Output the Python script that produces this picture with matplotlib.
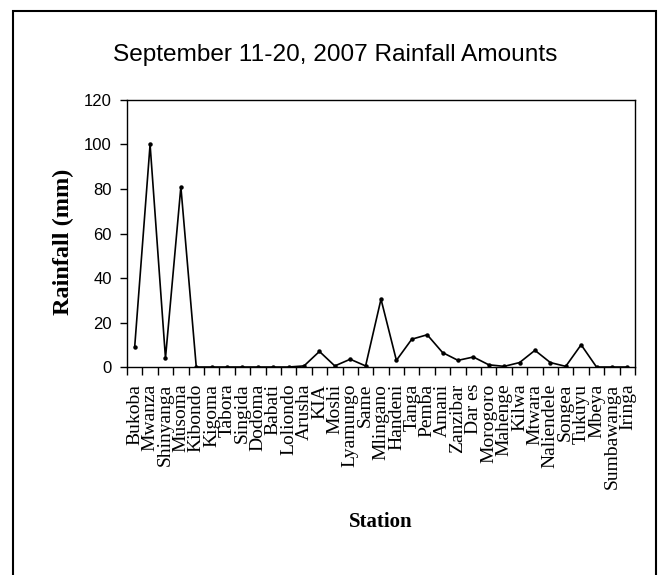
import matplotlib
matplotlib.use("Agg")
import matplotlib.pyplot as plt
from matplotlib.patches import Rectangle
from matplotlib.ticker import FixedLocator, NullFormatter

# Station names and rainfall (mm)
stations = ["Bukoba", "Mwanza", "Shinyanga", "Musoma", "Kibondo", "Kigoma",
            "Tabora", "Singida", "Dodoma", "Babati", "Loliondo", "Arusha",
            "KIA", "Moshi", "Lyamungo", "Same", "Mlingano", "Handeni",
            "Tanga", "Pemba", "Amani", "Zanzibar", "Dar es", "Morogoro",
            "Mahenge", "Kilwa", "Mtwara", "Naliendele", "Songea", "Tukuyu",
            "Mbeya", "Sumbawanga", "Iringa"]
rainfall = [9, 100, 4, 81, 0, 0,
            0, 0, 0, 0, 0, 0.5,
            7, 0.5, 3.5, 0.5, 30.5, 3,
            12.5, 14.5, 6.5, 3, 4.5, 1,
            0.3, 2, 7.5, 2, 0.3, 10,
            0, 0, 0]
y_ticks = [0, 20, 40, 60, 80, 100, 120]

sans = ["Liberation Sans", "DejaVu Sans"]
serif = ["Liberation Serif", "DejaVu Serif"]

fig = plt.figure(figsize=(6.59, 5.75), dpi=100)
ax = fig.add_axes([0.1927, 0.3617, 0.7709, 0.4644])

x = list(range(len(stations)))
ax.plot(x, rainfall, color="black", linewidth=1.2, marker="o",
        markersize=2.2)

ax.set_xlim(-0.5, len(stations) - 0.5)
ax.set_ylim(0, 120)
ax.set_yticks(y_ticks)
ax.set_yticklabels([str(v) for v in y_ticks], family=sans, fontsize=12)
ax.tick_params(axis="y", direction="out", length=5, width=1, pad=6)

# categories sit between the tick marks, as in a spreadsheet line chart
ax.set_xticks(x)
ax.set_xticklabels(stations, rotation=90, family=serif, fontsize=14,
                   va="top", ha="center")
ax.tick_params(axis="x", which="major", length=0, pad=12)
ax.xaxis.set_minor_locator(FixedLocator([i - 0.5 for i in range(len(stations) + 1)]))
ax.xaxis.set_minor_formatter(NullFormatter())
ax.tick_params(axis="x", which="minor", direction="out", length=6, width=1)

for s in ax.spines.values():
    s.set_linewidth(1.0)

fig.text(335.5 / 659, 1 - 55 / 575, "September 11-20, 2007 Rainfall Amounts",
         family=sans, fontsize=17.6, ha="center", va="center")
fig.text(63 / 659, 1 - 242 / 575, "Rainfall (mm)", family=serif,
         fontsize=17.5, fontweight="bold", rotation=90, ha="center", va="center")
fig.text(381 / 659, 1 - 522 / 575, "Station", family=serif, fontsize=15,
         fontweight="bold", ha="center", va="center")

# outer chart frame (bottom edge falls outside the image)
fig.patches.append(Rectangle((12.5 / 659, -0.05), (655.5 - 12.5) / 659,
                             1.05 - 11 / 575, transform=fig.transFigure,
                             fill=False, edgecolor="black", linewidth=1.5))

fig.savefig("out.png", dpi=100)
